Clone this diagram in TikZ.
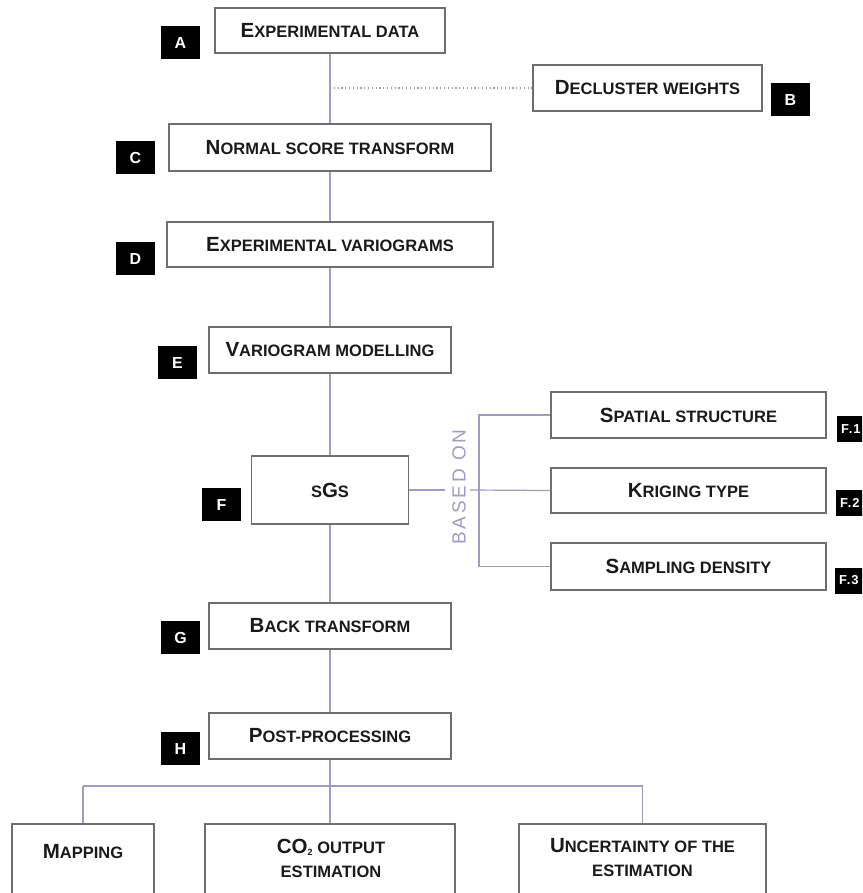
\documentclass[tikz,border=0pt]{standalone}
\usepackage{fontspec}
\setmainfont{Liberation Sans}
\definecolor{boxgray}{HTML}{6E6E6E}
\definecolor{linecol}{HTML}{9C9CC4}
\definecolor{txtcol}{HTML}{1A1A1A}
\definecolor{dotcol}{HTML}{A0A0A0}
\newcommand\BIG{\fontsize{20.5}{24}\selectfont}
\newcommand\SML{\fontsize{16.5}{24}\selectfont}
\newcommand\SCt[2]{{\BIG #1}{\SML #2}}
\tikzset{
  box/.style={draw=boxgray, line width=1.4pt, fill=white, inner sep=0pt, text=txtcol, font=\bfseries, align=center},
  lab/.style={fill=black, text=white, font=\bfseries\fontsize{16}{16}\selectfont, minimum width=39pt, minimum height=33pt, inner sep=0pt},
  flab/.style={fill=black, text=white, font=\bfseries\fontsize{13}{13}\selectfont\addfontfeature{LetterSpace=8}, minimum height=26pt, inner xsep=4pt, inner ysep=0pt, anchor=west},
  conn/.style={draw=linecol, line width=1.2pt},
}
\begin{document}
\begin{tikzpicture}[x=1pt,y=-1pt]
\path[use as bounding box, clip] (0,0) rectangle (862,893);
\fill[white] (0,0) rectangle (862,893);
% connector coordinates
\coordinate (dotstart) at (330,88);
\coordinate (bl) at (445,490);
\coordinate (br) at (470,490);
\coordinate (bt) at (479,415);
\coordinate (bb) at (479,566.5);
\coordinate (hub) at (330,786);
\coordinate (hl) at (83,786);
\coordinate (hr) at (642.5,786);

% boxes
\node[box, minimum width=230pt, minimum height=45pt] (A) at (330,30.5) {\SCt{E}{XPERIMENTAL DATA}};
\node[box, minimum width=229pt, minimum height=46pt] (B) at (647.5,88) {\SCt{D}{ECLUSTER WEIGHTS}};
\node[box, minimum width=322pt, minimum height=47pt] (C) at (330,147.5) {\SCt{N}{ORMAL SCORE TRANSFORM}};
\node[box, minimum width=326pt, minimum height=45pt] (D) at (330,244.5) {\SCt{E}{XPERIMENTAL VARIOGRAMS}};
\node[box, minimum width=242pt, minimum height=46pt] (E) at (330,350) {\SCt{V}{ARIOGRAM MODELLING}};
\node[box, minimum width=157pt, minimum height=68pt] (F) at (330,490) {{\SML S}{\BIG G}{\SML S}};
\node[box, minimum width=275pt, minimum height=46pt] (F1) at (688.5,415) {\SCt{S}{PATIAL STRUCTURE}};
\node[box, minimum width=275pt, minimum height=45pt] (F2) at (688.5,490.5) {\SCt{K}{RIGING TYPE}};
\node[box, minimum width=275pt, minimum height=47pt] (F3) at (688.5,566.5) {\SCt{S}{AMPLING DENSITY}};
\node[box, minimum width=242pt, minimum height=46pt] (G) at (330,626) {\SCt{B}{ACK TRANSFORM}};
\node[box, minimum width=242pt, minimum height=46pt] (H) at (330,736) {\SCt{P}{OST-PROCESSING}};
\node[box, minimum width=142pt, minimum height=84pt] (M) at (83,866) {};
\node[box, minimum width=250pt, minimum height=84pt] (CO) at (330,866) {};
\node[box, minimum width=247pt, minimum height=84pt] (U) at (642.5,866) {};
\node[text=txtcol, font=\bfseries] (Mt) at (83,852) {\SCt{M}{APPING}};
\node[text=txtcol, font=\bfseries\SML, align=center] (COt) at (331,858) {{\BIG CO}\raisebox{-2.5pt}{\fontsize{9}{9}\selectfont 2}{\SML\ OUTPUT}\\ESTIMATION};
\node[text=txtcol, font=\bfseries\SML, align=center] (Ut) at (642.5,858) {\SCt{U}{NCERTAINTY OF THE}\\ESTIMATION};

% letter labels
\node[lab] (lA) at (180.5,42.5) {A};
\node[lab] (lB) at (790.5,99.5) {B};
\node[lab] (lC) at (135.5,157.5) {C};
\node[lab] (lD) at (135.5,258.5) {D};
\node[lab] (lE) at (177.5,362.5) {E};
\node[lab] (lF) at (221.5,504.5) {F};
\node[lab] (lG) at (180.5,637.5) {G};
\node[lab] (lH) at (180.5,748.5) {H};
\node[flab] (lF1) at (837,429) {F.1};
\node[flab] (lF2) at (836,502.5) {F.2};
\node[flab] (lF3) at (835,580.5) {F.3};

% BASED ON
\node[rotate=90, text=linecol, font=\fontsize{19}{19}\selectfont\addfontfeature{LetterSpace=15}, inner sep=0pt] (based) at (459,487) {BASED ON};

% connectors
\draw[conn] (A.south) -- (C.north);
\draw[dotcol, line width=1.1pt, dash pattern=on 1.2pt off 2.6pt] (dotstart) -- (B.west);
\draw[conn] (C.south) -- (D.north);
\draw[conn] (D.south) -- (E.north);
\draw[conn] (E.south) -- (F.north);
\draw[conn] (F.south) -- (G.north);
\draw[conn] (G.south) -- (H.north);
\draw[conn] (F.east) -- (bl);
\draw[conn] (br) -- (F2.west);
\draw[conn] (F1.west) -- (bt) -- (bb) -- (F3.west);
\draw[conn] (H.south) -- (hub);
\draw[conn] (hl) -- (hr);
\draw[conn] (hl) -- (M.north);
\draw[conn] (hub) -- (CO.north);
\draw[conn] (hr) -- (U.north);
\end{tikzpicture}
\end{document}
